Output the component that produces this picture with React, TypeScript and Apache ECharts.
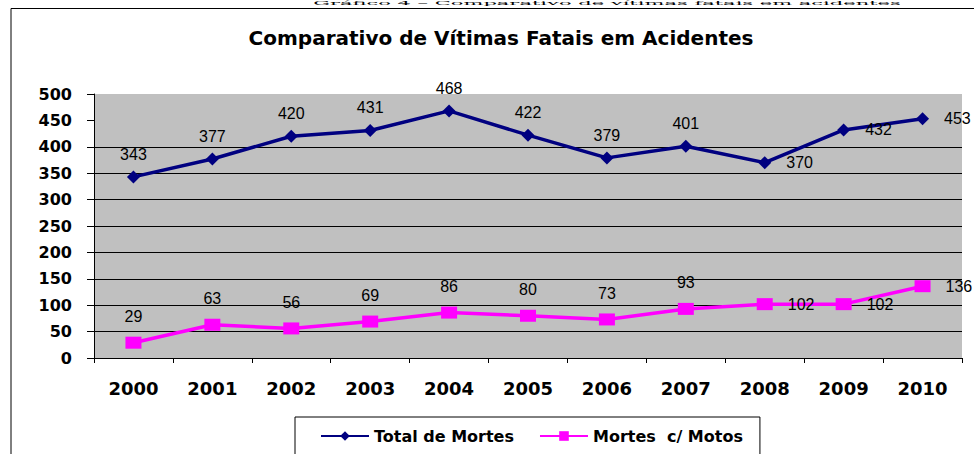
import React, { useEffect, useRef } from "react";
import * as echarts from "echarts";

const years = ["2000", "2001", "2002", "2003", "2004", "2005", "2006", "2007", "2008", "2009", "2010"];
const totalDeaths = [343, 377, 420, 431, 468, 422, 379, 401, 370, 432, 453];
const motoDeaths = [29, 63, 56, 69, 86, 80, 73, 93, 102, 102, 136];
const seriesNames = ["Total de Mortes", "Mortes  c/ Motos"];
const yMin = 0;
const yMax = 500;
const yStep = 50;
const chartTitle = "Comparativo de Vítimas Fatais em Acidentes";
const captionText = "Gráfico 4 – Comparativo de vítimas fatais em acidentes";

// indices whose data labels sit to the right of the point (style only)
const totalRightLabels = [8, 9, 10];
const motoRightLabels = [8, 9, 10];

const AXIS_FONT = "'DejaVu Sans', sans-serif";
const LABEL_FONT = "'Liberation Sans', Arial, sans-serif";

function withLabels(values: number[], rightIdx: number[], topDist: number, rightDist: number) {
  return values.map((v, i) =>
    rightIdx.includes(i)
      ? { value: v, label: { position: "right", distance: rightDist } }
      : { value: v, label: { position: "top", distance: topDist } }
  );
}

export default function App() {
  const ref = useRef<HTMLDivElement>(null);

  useEffect(() => {
    if (!ref.current) return;
    const chart = echarts.init(ref.current, undefined, { renderer: "svg" });
    const gridColors = [
      "#000", "#000", "#000", "#000", "#000", "#000", "#000", "#000", "#000", "rgba(0,0,0,0)",
    ];
    chart.setOption({
      animation: false,
      backgroundColor: "#ffffff",
      title: {
        text: chartTitle,
        left: 501,
        top: 28,
        padding: 0,
        textAlign: "center",
        textStyle: {
          fontFamily: AXIS_FONT,
          fontWeight: "bold",
          fontSize: 20,
          color: "#000",
        },
      },
      graphic: [
        {
          type: "text",
          x: 607,
          y: 0,
          scaleY: 0.3,
          style: {
            text: captionText,
            font: "21px 'DejaVu Serif', serif",
            fill: "#000",
            textAlign: "center",
            textVerticalAlign: "top",
          },
          silent: true,
        },
        {
          type: "line",
          shape: { x1: 11, y1: 8.5, x2: 974, y2: 8.5 },
          style: { stroke: "#000", lineWidth: 1 },
          silent: true,
        },
        {
          type: "line",
          shape: { x1: 11, y1: 8.5, x2: 11, y2: 454 },
          style: { stroke: "#000", lineWidth: 1 },
          silent: true,
        },
      ],
      legend: {
        left: 295,
        top: 417,
        orient: "horizontal",
        itemWidth: 48,
        itemHeight: 12,
        itemGap: 25,
        padding: [11, 17, 30, 25],
        borderColor: "#000",
        borderWidth: 1,
        backgroundColor: "#fff",
        data: seriesNames,
        textStyle: {
          fontFamily: AXIS_FONT,
          fontWeight: "bold",
          fontSize: 16,
          color: "#000",
        },
      },
      grid: {
        left: 94,
        right: 12,
        top: 94,
        bottom: 96,
        show: true,
        backgroundColor: "#C0C0C0",
        borderWidth: 0,
        containLabel: false,
      },
      xAxis: {
        type: "category",
        data: years,
        boundaryGap: true,
        axisLine: { show: true, lineStyle: { color: "#000", width: 1 } },
        axisTick: { show: true, length: 5, lineStyle: { color: "#000" } },
        axisLabel: {
          margin: 21,
          fontFamily: AXIS_FONT,
          fontWeight: "bold",
          fontSize: 18,
          color: "#000",
        },
        splitLine: { show: false },
      },
      yAxis: {
        type: "value",
        min: yMin,
        max: yMax,
        interval: yStep,
        axisLine: { show: true, lineStyle: { color: "#000", width: 1 } },
        axisTick: { show: true, length: 7, lineStyle: { color: "#000" } },
        axisLabel: {
          margin: 22,
          fontFamily: AXIS_FONT,
          fontWeight: "bold",
          fontSize: 16,
          color: "#000",
        },
        splitLine: {
          show: true,
          showMaxLine: false,
          lineStyle: { color: gridColors, width: 1 },
        },
      },
      series: [
        {
          name: seriesNames[0],
          type: "line",
          data: withLabels(totalDeaths, totalRightLabels, 8, 15),
          symbol: "diamond",
          symbolSize: 13,
          color: "#000080",
          lineStyle: { color: "#000080", width: 3.5 },
          itemStyle: { color: "#000080" },
          label: {
            show: true,
            fontFamily: LABEL_FONT,
            fontSize: 16,
            color: "#000",
          },
          z: 3,
        },
        {
          name: seriesNames[1],
          type: "line",
          data: withLabels(motoDeaths, motoRightLabels, 12, 15),
          symbol: "rect",
          symbolSize: [16, 12],
          color: "#FF00FF",
          lineStyle: { color: "#FF00FF", width: 3.5 },
          itemStyle: { color: "#FF00FF" },
          label: {
            show: true,
            fontFamily: LABEL_FONT,
            fontSize: 16,
            color: "#000",
          },
          z: 3,
        },
      ],
    });
    return () => chart.dispose();
  }, []);

  return (
    <div
      ref={ref}
      style={{ position: "fixed", left: 0, top: 0, width: 974, height: 454, background: "#fff" }}
    />
  );
}
